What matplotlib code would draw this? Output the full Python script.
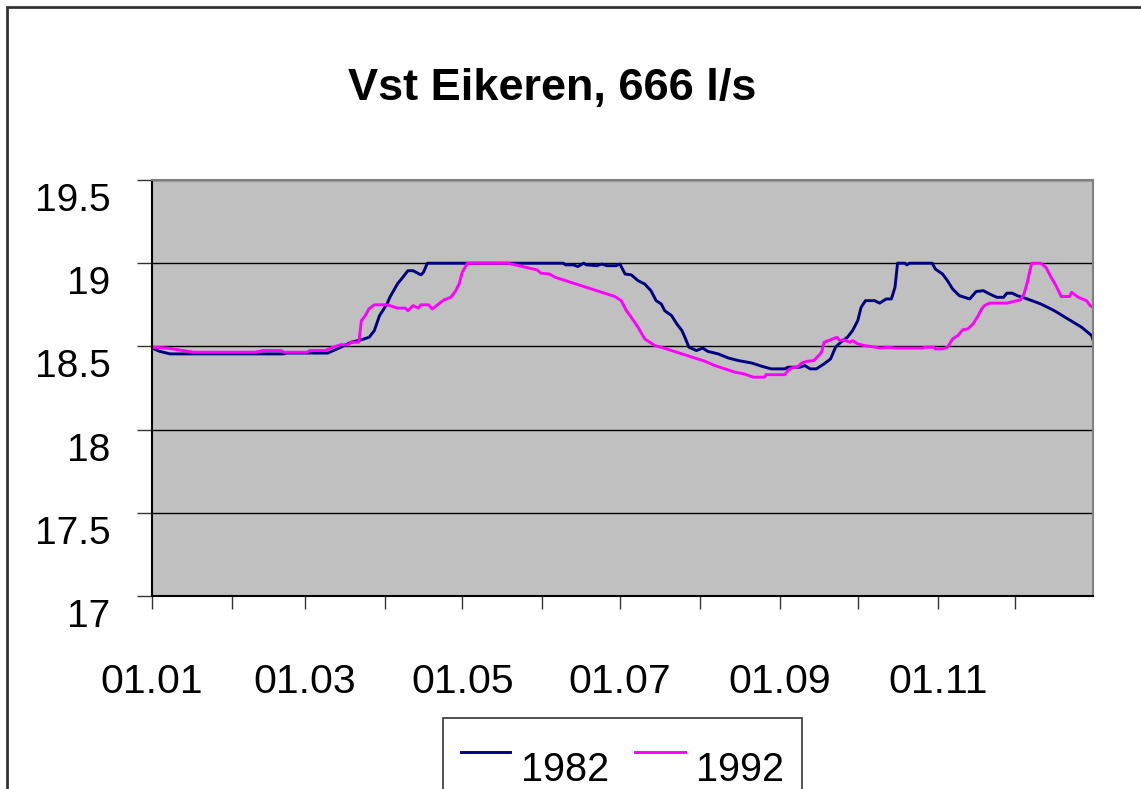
import matplotlib as mpl

mpl.use('agg')

import matplotlib.pyplot as plt
from matplotlib.patches import Rectangle
from matplotlib.transforms import ScaledTranslation

plt.rc('font', family = ['Liberation Sans', 'DejaVu Sans'])

# day of year and water level
days_1982 = [0, 3, 7, 51, 52, 68, 73, 77, 81, 84, 86, 88, 91, 92, 95, 97, 99, 101,
             104, 105, 106.5, 159, 160, 163, 164.7, 167, 168, 172, 174, 176, 179.6,
             181, 183, 185.4, 188, 190.6, 193, 195, 197, 198.3, 201, 203, 205, 206.4,
             207.7, 210.6, 213, 215, 219, 223, 226.8, 232, 236, 239.5, 244.8, 246,
             250.6, 252.5, 254.6, 257, 260, 262.5, 264.4, 266.4, 269, 271, 273,
             274.3, 276, 279.5, 281.5, 284, 286, 287.4, 288.4, 291.3, 292, 293,
             301.8, 303, 305.8, 307.7, 309.7, 312.3, 316.3, 318.8, 321.6, 324,
             326.8, 329.4, 330.7, 332.7, 334.7, 338.6, 343.8, 349, 354.3, 359.6,
             363.5, 364]
level_1982 = [18.49, 18.47, 18.455, 18.455, 18.46, 18.46, 18.495, 18.525, 18.54,
              18.555, 18.595, 18.685, 18.757, 18.795, 18.877, 18.915, 18.955, 18.955,
              18.93, 18.945, 19.0, 19.0, 18.99, 18.99, 18.98, 19.0, 18.99, 18.985,
              18.995, 18.985, 18.985, 18.995, 18.935, 18.93, 18.895, 18.875, 18.835,
              18.775, 18.755, 18.715, 18.685, 18.635, 18.595, 18.545, 18.495, 18.475,
              18.49, 18.47, 18.455, 18.43, 18.415, 18.40, 18.38, 18.365, 18.365,
              18.375, 18.375, 18.385, 18.365, 18.365, 18.395, 18.425, 18.495, 18.525,
              18.555, 18.595, 18.655, 18.735, 18.775, 18.775, 18.76, 18.785, 18.785,
              18.855, 19.0, 19.0, 18.99, 19.0, 19.0, 18.965, 18.935, 18.895, 18.845,
              18.805, 18.785, 18.83, 18.835, 18.815, 18.795, 18.795, 18.82, 18.82,
              18.805, 18.785, 18.755, 18.715, 18.665, 18.615, 18.565, 18.54]

days_1992 = [0, 6, 16, 40, 43, 50, 51, 60, 61, 67, 70, 73, 76, 77, 80, 81, 82.5, 84,
             86, 91, 95, 98, 99, 101, 103, 104, 107, 108.4, 111.7, 113, 115.6, 117.5,
             118.8, 120, 122, 137.6, 142, 146, 149, 150.4, 153.7, 156, 160, 163, 167,
             171, 175, 179, 181.5, 183.5, 185.4, 188, 190.6, 194.5, 198, 202, 206,
             210, 214, 217.7, 221.6, 225.5, 229, 232.6, 237, 237.5, 244.8, 246, 247.4,
             250, 251.3, 253.3, 256, 257.9, 259, 260, 262.5, 265, 266, 267.5, 270,
             271, 273, 275.6, 278, 281.5, 285.4, 287.4, 298, 299, 302.5, 303, 305.8,
             307.7, 309.7, 311.7, 313.6, 315.6, 317.6, 319.6, 320.9, 322, 324, 330.7,
             333.3, 336, 337.3, 338.6, 339.6, 340.3, 343.8, 345.8, 347.8, 349.7,
             351.7, 355, 355.7, 358.3, 361.5, 362.9, 364]
level_1992 = [18.495, 18.49, 18.465, 18.465, 18.475, 18.475, 18.465, 18.465, 18.475,
              18.475, 18.495, 18.51, 18.51, 18.525, 18.525, 18.655, 18.685, 18.727,
              18.75, 18.75, 18.73, 18.73, 18.715, 18.745, 18.73, 18.75, 18.75, 18.725,
              18.765, 18.78, 18.795, 18.835, 18.875, 18.945, 19.0, 19.0, 18.985, 18.97,
              18.96, 18.94, 18.935, 18.915, 18.895, 18.88, 18.86, 18.84, 18.82, 18.80,
              18.775, 18.715, 18.675, 18.615, 18.545, 18.505, 18.49, 18.47, 18.45,
              18.43, 18.41, 18.385, 18.365, 18.345, 18.335, 18.315, 18.315, 18.33,
              18.33, 18.355, 18.37, 18.38, 18.40, 18.41, 18.415, 18.445, 18.465,
              18.525, 18.54, 18.555, 18.535, 18.54, 18.525, 18.535, 18.515, 18.505,
              18.50, 18.49, 18.495, 18.49, 18.49, 18.495, 18.495, 18.485, 18.485,
              18.495, 18.545, 18.565, 18.60, 18.605, 18.635, 18.685, 18.725, 18.745,
              18.76, 18.76, 18.77, 18.78, 18.815, 18.885, 18.955, 19.0, 19.0, 18.975,
              18.915, 18.865, 18.80, 18.80, 18.825, 18.795, 18.775, 18.745, 18.735]

month_starts = [0, 31, 59, 90, 120, 151, 181, 212, 243, 273, 304, 334]
month_labels = ['01.01', '', '01.03', '', '01.05', '', '01.07', '', '01.09', '',
                '01.11', '']
y_ticks = [17, 17.5, 18, 18.5, 19, 19.5]
y_labels = ['17', '17.5', '18', '18.5', '19', '19.5']

W, H = 1141, 789
fig = plt.figure(figsize=(W / 100, H / 100), dpi=100)
ax = fig.add_axes([152 / W, 1 - 596 / H, (1093 - 152) / W, (596 - 180) / H])
ax.set_facecolor('#c0c0c0')

ax.plot(days_1982, level_1982, color='#000080', lw=2.1, label='1982')
ax.plot(days_1992, level_1992, color='#ff00ff', lw=2.1, label='1992')

ax.set_xlim(0, 364)
ax.set_ylim(17, 19.5)
ax.set_xticks(month_starts)
ax.set_xticklabels(month_labels)
ax.set_yticks(y_ticks)
ax.set_yticklabels(y_labels)
ax.yaxis.grid(True, color='black', lw=1)
ax.set_axisbelow(True)

ax.tick_params(axis='x', direction='out', length=9, width=1, pad=39,
               labelsize=29.5, color='#333333')
ax.tick_params(axis='y', direction='out', length=11, width=1, pad=19,
               labelsize=28, color='#333333')
# excel puts the value labels a bit under their ticks
for lbl in ax.get_yticklabels():
    lbl.set_transform(lbl.get_transform() + ScaledTranslation(0, -17 / 100, fig.dpi_scale_trans))

for s in ['left', 'bottom']:
    ax.spines[s].set_color('black')
    ax.spines[s].set_linewidth(1.5)
for s in ['top', 'right']:
    ax.spines[s].set_color('#808080')
    ax.spines[s].set_linewidth(1.5)

fig.text(552 / W, 1 - 100 / H, 'Vst Eikeren, 666 l/s', ha='center', va='baseline',
         fontsize=32.5, fontweight='bold')

leg = ax.legend(loc='upper left', bbox_to_anchor=(443 / W, 1 - 718 / H),
                bbox_transform=fig.transFigure, ncol=2, fontsize=28.5,
                frameon=True, fancybox=False, borderpad=0.45, borderaxespad=0,
                handlelength=1.25, handletextpad=0.28, columnspacing=0.65)
leg.get_frame().set_edgecolor('black')
leg.get_frame().set_linewidth(1.2)
for t in leg.get_texts():
    t.set_position((0, -15))

# chart area border (runs off the right and bottom edge)
fig.patches.append(Rectangle((7 / W, -0.1), 1.2, 1.1 - 7 / H, transform=fig.transFigure,
                             fill=False, edgecolor='#333333', lw=2))

fig.savefig('out.png', dpi=100)
